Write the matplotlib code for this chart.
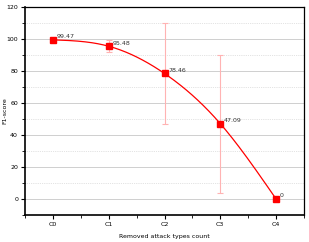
import numpy as np
import matplotlib.pyplot as plt
from matplotlib.ticker import MultipleLocator

categories = ['C0', 'C1', 'C2', 'C3', 'C4']
f1_score = [99.47, 95.48, 78.46, 47.09, 0]
f1_err = [0.6, 3.7, 31.6, 43.2, 0]
labels = ['99.47', '95.48', '78.46', '47.09', '0']


def natural_spline(x, y, n=200):
    # natural cubic spline for the smoothed connecting line
    x = np.asarray(x, float)
    y = np.asarray(y, float)
    k = len(x)
    h = np.diff(x)
    A = np.zeros((k, k))
    b = np.zeros(k)
    A[0, 0] = A[-1, -1] = 1
    for i in range(1, k - 1):
        A[i, i - 1] = h[i - 1]
        A[i, i] = 2 * (h[i - 1] + h[i])
        A[i, i + 1] = h[i]
        b[i] = 6 * ((y[i + 1] - y[i]) / h[i] - (y[i] - y[i - 1]) / h[i - 1])
    m = np.linalg.solve(A, b)
    xs = np.linspace(x[0], x[-1], n)
    ys = np.empty_like(xs)
    for j, t in enumerate(xs):
        i = min(np.searchsorted(x, t, side='right') - 1, k - 2)
        a = x[i + 1] - t
        c = t - x[i]
        ys[j] = (m[i] * a ** 3 / (6 * h[i]) + m[i + 1] * c ** 3 / (6 * h[i])
                 + (y[i] / h[i] - m[i] * h[i] / 6) * a
                 + (y[i + 1] / h[i] - m[i + 1] * h[i] / 6) * c)
    return xs, ys


fig = plt.figure(figsize=(3.09, 2.42), dpi=100)
ax = fig.add_axes([25 / 309, 1 - 215 / 242, 279 / 309, 208 / 242])

x = np.arange(len(categories))
xs, ys = natural_spline(x, f1_score)
ax.plot(xs, ys, color='#ff0000', lw=0.9, zorder=3)
ax.errorbar(x, f1_score, yerr=f1_err, fmt='none', ecolor='#ffb3b3',
            elinewidth=0.8, capsize=2, capthick=0.8, zorder=2)
ax.plot(x, f1_score, 's', color='#ff0000', ms=4, zorder=4)

for xi, yi, t in zip(x, f1_score, labels):
    ax.annotate(t, (xi, yi), xytext=(2.5, 0.5), textcoords='offset points',
                fontsize=4.5, color='#333333', va='bottom')

ax.set_xlim(-0.5, 4.5)
ax.set_ylim(-10, 120)
ax.set_xticks(x)
ax.set_xticklabels(categories)
ax.xaxis.set_minor_locator(MultipleLocator(0.5))
ax.yaxis.set_major_locator(MultipleLocator(20))
ax.yaxis.set_minor_locator(MultipleLocator(10))

ax.grid(True, which='major', axis='y', color='#c8c8c8', lw=0.6)
ax.grid(True, which='minor', axis='y', color='#c8c8c8', lw=0.5, ls=':')
ax.set_axisbelow(True)

ax.tick_params(axis='both', which='major', labelsize=4.5, length=3,
               width=0.8, direction='out', pad=2)
ax.tick_params(axis='both', which='minor', length=2, width=0.6,
               direction='out')
for side in ['left', 'bottom']:
    ax.spines[side].set_linewidth(1.2)
for side in ['top', 'right']:
    ax.spines[side].set_linewidth(0.9)

ax.set_ylabel('F1-score', fontsize=4.5)
ax.yaxis.set_label_coords(-0.062, 0.5)
ax.set_xlabel('Removed attack types count', fontsize=4.5, labelpad=5)

fig.savefig('out.png', dpi=100)
